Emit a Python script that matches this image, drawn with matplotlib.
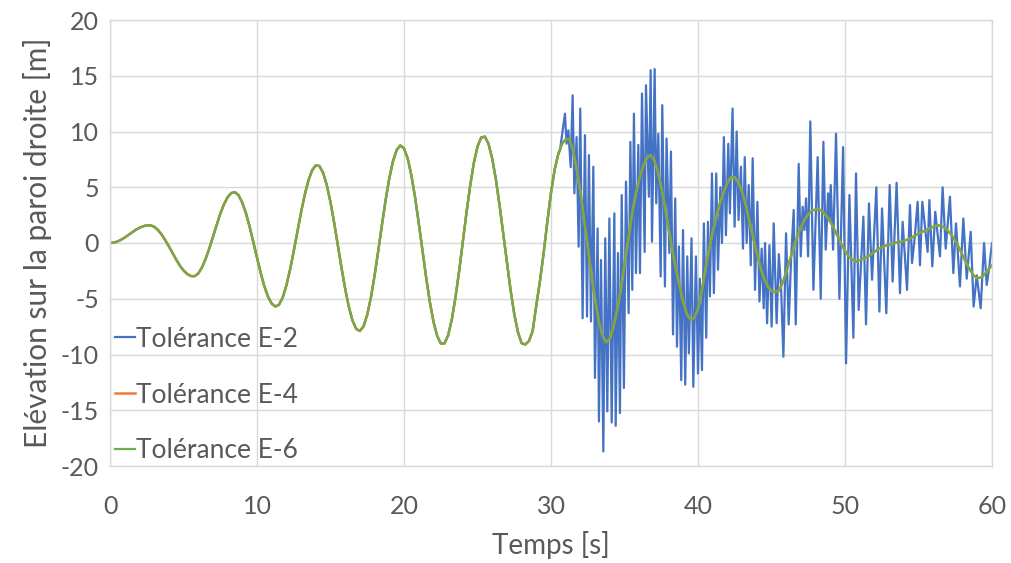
import matplotlib
matplotlib.use("Agg")
import matplotlib.pyplot as plt
import numpy as np

# ---------------------------------------------------------------------------
# Data (time in s, elevation in m)
# ---------------------------------------------------------------------------

# smooth solution (Tolérance E-6), sampled every 0.25 s from 0 to 60 s
t_smooth = np.arange(0, 60.001, 0.25)
elev_e6 = [
    0.00, 0.03, 0.13, 0.29, 0.49, 0.72, 0.95, 1.18, 1.36, 1.50, 1.58,
    1.59, 1.46, 1.19, 0.78, 0.28, -0.29, -0.89, -1.48, -2.02, -2.46, -2.78, -2.96,
    -2.98, -2.74, -2.21, -1.44, -0.50, 0.55, 1.61, 2.62, 3.46, 4.10, 4.48,
    4.56, 4.27, 3.62, 2.66, 1.45, 0.08, -1.33, -2.68, -3.88, -4.82, -5.44, -5.70,
    -5.53, -4.88, -3.80, -2.38, -0.72, 1.04, 2.77, 4.33, 5.62, 6.52, 6.96,
    6.90, 6.29, 5.18, 3.65, 1.81, -0.20, -2.23, -4.12, -5.75, -6.97, -7.70,
    -7.89, -7.47, -6.43, -4.88, -2.91, -0.68, 1.63, 3.85, 5.80, 7.34, 8.34, 8.75,
    8.49, 7.58, 6.08, 4.12, 1.82, -0.62, -3.03, -5.23, -7.03, -8.31, -9.01,
    -9.01, -8.29, -6.88, -4.91, -2.52, 0.09, 2.71, 5.13, 7.17, 8.65, 9.46,
    9.54, 8.89, 7.58, 5.70, 3.39, 0.83, -1.78, -4.23, -6.36, -7.99, -8.99,
    -9.1, -8.8, -7.9, -5.6, -3.4, -0.9, 1.9, 4.5, 6.6, 8.0, 8.9, 9.3,
    9.3, 8.3, 6.6, 4.6, 2.1, -0.3, -2.9, -5.1, -7.0, -8.3, -8.9, -8.6,
    -7.5, -6.0, -4.2, -1.9, 0.2, 2.5, 4.3, 5.7, 6.8, 7.6, 7.9, 7.5,
    6.5, 5.0, 3.3, 1.3, -0.6, -2.3, -3.9, -5.3, -6.4, -6.9, -6.7, -5.9,
    -4.3, -2.4, -0.6, 1.0, 2.4, 3.6, 4.6, 5.4, 5.9, 5.9, 5.4, 4.6,
    3.4, 2.0, 0.5, -0.9, -2.2, -3.2, -3.9, -4.3, -4.4, -4.3, -3.6, -2.6,
    -1.5, -0.5, 0.6, 1.4, 2.1, 2.6, 2.9, 3.0, 3.0, 2.8, 2.4, 1.9,
    1.3, 0.6, -0.1, -0.7, -1.2, -1.5, -1.65, -1.55, -1.4, -1.25, -1.05, -0.8,
    -0.55, -0.4, -0.25, -0.15, -0.05, 0.05, 0.1, 0.2, 0.3, 0.45, 0.65, 0.85,
    1.0, 1.15, 1.3, 1.45, 1.6, 1.55, 1.4, 1.1, 0.7, 0.2, -0.4, -1.1,
    -1.8, -2.4, -2.9, -3.15, -3.1, -2.8, -2.4, -2.0,
]
# E-4 sits on top of E-6 at this resolution
elev_e4 = list(elev_e6)

# E-2: identical to the others until ~30.5 s, then spiky (local extremes)
t_e2_burst = [
    30.61, 30.95, 31.06, 31.18, 31.34, 31.47, 31.59, 31.74, 31.88, 31.99,
    32.15, 32.31, 32.45, 32.58, 32.72, 32.88, 32.99, 33.17, 33.26, 33.40,
    33.56, 33.69, 33.83, 33.97, 34.13, 34.31, 34.40, 34.56, 34.69, 34.81,
    34.96, 35.10, 35.28, 35.40, 35.53, 35.64, 35.78, 35.94, 36.05, 36.19,
    36.37, 36.46, 36.66, 36.78, 36.87, 37.05, 37.16, 37.30, 37.46, 37.57,
    37.75, 37.86, 38.05, 38.16, 38.30, 38.45, 38.57, 38.70, 38.86, 38.98,
    39.13, 39.27, 39.38, 39.56, 39.68, 39.86, 40.00, 40.13, 40.27, 40.40,
    40.56, 40.68, 40.81, 40.95, 41.08, 41.24, 41.36, 41.52, 41.63, 41.76,
    41.90, 42.06, 42.17, 42.35, 42.49, 42.63, 42.76, 42.92, 43.06, 43.18,
    43.31, 43.45, 43.59, 43.72, 43.88, 44.04, 44.18, 44.33, 44.47, 44.56,
    44.70, 44.86, 45.01, 45.15, 45.35, 45.50, 45.65, 45.81, 45.99, 46.17,
    46.33, 46.51, 46.65, 46.85, 46.99, 47.12, 47.24, 47.35, 47.49, 47.64,
    47.85, 48.14, 48.35, 48.53, 48.69, 48.85, 48.94, 49.03, 49.19, 49.39,
    49.62, 49.87, 50.07, 50.30, 50.57, 50.75, 50.93, 51.25, 51.43, 51.63,
    51.84, 52.13, 52.34, 52.52, 52.81, 53.04, 53.24, 53.51, 53.74, 53.92,
    54.22, 54.42, 54.56, 54.75, 54.94, 55.10, 55.26, 55.62, 55.74, 55.94,
    56.14, 56.46, 56.64, 56.85, 57.14, 57.37, 57.55, 57.82, 58.05, 58.28,
    58.55, 58.75, 58.96, 59.23, 59.46, 59.64, 59.82, 60.00,
]
elev_e2_burst = [
    8.3, 11.6, 8.9, 10.1, 6.8, 13.25, 4.45, 9.5, -0.33, 12.06,
    -6.75, 9.67, -6.6, 7.88, -7.04, 6.84, -12.1, 1.31, -16.0, -1.52,
    -18.7, 0.42, -15.1, 2.2, -16.1, 2.66, -16.4, -0.9, -15.25, 4.3,
    -13.0, 5.5, -6.3, 9.07, -4.2, 11.6, -2.7, 8.8, -2.7, 13.4,
    -0.8, 14.15, 4.15, 15.5, 0.12, 15.6, 3.55, 9.8, -3.0, 12.36,
    -3.9, 9.37, -0.9, 8.2, -8.2, 4.0, -9.3, -0.3, -12.3, 1.16,
    -12.7, -1.2, -9.9, 0.42, -12.9, -1.2, -11.7, -3.2, -11.4, 1.76,
    -8.5, 1.9, -4.8, 6.24, -4.5, 6.24, -2.4, 5.0, 0.0, 9.5,
    0.7, 8.9, 2.66, 12.06, 1.46, 10.0, 2.06, 6.84, -0.5, 7.7,
    0.0, 5.2, -2.0, 7.6, -4.2, 3.7, -5.25, -0.5, -5.85, 0.0,
    -7.2, -0.2, -7.5, 1.76, -7.2, -1.0, -4.0, -10.2, 0.87, -7.3,
    -1.5, 2.96, -7.3, 7.1, -1.2, 3.25, 1.16, 4.0, -1.2, 10.9,
    -4.2, 7.7, -5.0, 9.07, -0.6, 4.45, 2.0, 5.2, -0.6, 9.8,
    -5.0, 8.6, -10.8, 4.3, -8.5, 6.24, -6.0, 2.36, -7.3, 3.55,
    -3.3, 5.0, -6.15, 3.1, -6.3, 5.2, -3.46, 5.4, -4.5, 1.9,
    -4.2, 3.4, -1.8, 0.6, 3.7, -2.0, 3.7, -0.8, 3.85, -2.1,
    2.8, -1.2, 5.0, -0.5, 4.15, -2.7, 1.76, -3.9, 2.2, -3.2,
    1.0, -5.7, -2.9, -5.85, 0.0, -3.76, -2.1, 0.0,
]

labels = ["Tolérance E-2", "Tolérance E-4", "Tolérance E-6"]
colors = ["#4472C4", "#ED7D31", "#70AD47"]

# ---------------------------------------------------------------------------
# Build E-2 series from the shared start + burst
# ---------------------------------------------------------------------------
e6 = np.asarray(elev_e6)
assert len(e6) == len(t_smooth)
keep = t_smooth <= 30.5
t_e2 = np.concatenate([t_smooth[keep], t_e2_burst])
elev_e2 = np.concatenate([e6[keep], elev_e2_burst])

# ---------------------------------------------------------------------------
# Figure
# ---------------------------------------------------------------------------
plt.rcParams["font.family"] = ["Lato", "DejaVu Sans"]
plt.rcParams["axes.unicode_minus"] = False
text_color = "#595959"
grid_color = "#D9D9D9"

fig = plt.figure(figsize=(10.11, 5.63), dpi=100)
ax = fig.add_axes([110 / 1011, 97 / 563, 882 / 1011, 446 / 563])

ax.plot(t_e2, elev_e2, color=colors[0], lw=1.6, label=labels[0])
ax.plot(t_smooth, elev_e4, color=colors[1], lw=1.8, label=labels[1])
ax.plot(t_smooth, elev_e6, color=colors[2], lw=1.6, label=labels[2])

ax.set_xlim(0, 60)
ax.set_ylim(-20, 20)
ax.set_xticks(np.arange(0, 61, 10))
ax.set_yticks(np.arange(-20, 21, 5))
ax.grid(True, color=grid_color, lw=1.0)
ax.set_axisbelow(True)
for sp in ax.spines.values():
    sp.set_color(grid_color)
    sp.set_linewidth(1.0)
ax.tick_params(length=0, labelsize=18, colors=text_color)
ax.tick_params(axis="x", pad=21)
ax.tick_params(axis="y", pad=8)

ax.set_xlabel("Temps [s]", fontsize=20, color=text_color, labelpad=9)
ax.set_ylabel("Elévation sur la paroi droite [m]", fontsize=21.5,
              color=text_color, labelpad=6)

leg = ax.legend(loc="lower left", bbox_to_anchor=(0.0, -0.006), frameon=False,
                fontsize=19, handlelength=0.76, handletextpad=0.02,
                labelspacing=1.17, borderpad=0.2, borderaxespad=0.0)
for txt in leg.get_texts():
    txt.set_color(text_color)

fig.savefig("out.png", dpi=100)
